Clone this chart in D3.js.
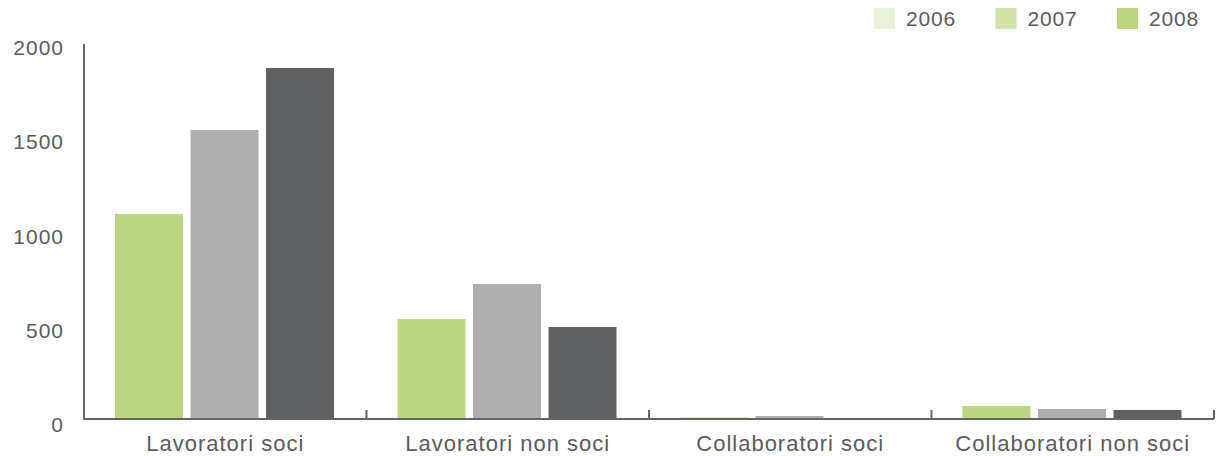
<!DOCTYPE html>
<html>
<head>
<meta charset="utf-8">
<script src="https://cdn.jsdelivr.net/npm/d3@7"></script>
<style>
  html, body { margin: 0; padding: 0; background: #fff; }
  svg { display: block; }
  text { font-family: "Liberation Sans", Arial, Helvetica, sans-serif; fill: #5b5b5b; }
</style>
</head>
<body>
<svg id="chart" width="1217" height="456"></svg>
<script>
const categories = ["Lavoratori soci", "Lavoratori non soci", "Collaboratori soci", "Collaboratori non soci"];
const years = ["2006", "2007", "2008"];
const values2006 = [1088, 530, 8, 69];
const values2007 = [1533, 716, 16, 53];
const values2008 = [1862, 488, 0, 48];
const yTicks = [0, 500, 1000, 1500, 2000];
const barColors = ["#bcd580", "#afafaf", "#5f6062"];
const legendColors = ["#e8f2d8", "#d0e2a8", "#bcd580"];

const series = [values2006, values2007, values2008];
const data = categories.map((c, i) => ({ cat: c, vals: years.map((y, j) => ({ year: y, idx: j, v: series[j][i] })) }));

const svg = d3.select("#chart");
const left = 84, right = 1214, baseY = 419, topY = 42;

const x = d3.scaleBand().domain(categories).range([left, right]).padding(0);
const xs = d3.scaleBand().domain(years).range([31, 250]).paddingInner(0.1).paddingOuter(0);
const y = d3.scaleLinear().domain([0, 2000]).range([baseY, topY]);

// bars
const g = svg.append("g");
g.selectAll("g.grp").data(data).join("g")
  .attr("transform", d => `translate(${x(d.cat)},0)`)
  .selectAll("rect").data(d => d.vals).join("rect")
  .attr("x", d => xs(d.year))
  .attr("width", xs.bandwidth())
  .attr("y", d => y(d.v))
  .attr("height", d => baseY - y(d.v))
  .attr("fill", d => barColors[d.idx]);

// x axis line and boundary ticks
svg.append("line").attr("x1", left).attr("x2", right).attr("y1", baseY).attr("y2", baseY)
  .attr("stroke", "#666").attr("stroke-width", 2);
const bounds = categories.map(c => x(c)).concat([right]);
svg.selectAll("line.bt").data(bounds).join("line")
  .attr("x1", d => d).attr("x2", d => d).attr("y1", baseY).attr("y2", baseY - 9)
  .attr("stroke", "#666").attr("stroke-width", 2);

// y axis line
svg.append("line").attr("x1", left).attr("x2", left).attr("y1", 44).attr("y2", baseY + 1)
  .attr("stroke", "#666").attr("stroke-width", 2);

// category labels
svg.selectAll("text.cat").data(categories).join("text")
  .attr("x", d => x(d) + x.bandwidth() / 2)
  .attr("y", 451)
  .attr("text-anchor", "middle")
  .attr("font-size", 22)
  .attr("letter-spacing", 1)
  .text(d => d);

// y tick labels
svg.selectAll("text.yt").data(yTicks).join("text")
  .attr("x", 64)
  .attr("y", d => y(d) + 13)
  .attr("text-anchor", "end")
  .attr("font-size", 21)
  .attr("letter-spacing", 1)
  .text(d => d);

// legend
const lg = svg.selectAll("g.lg").data(years).join("g")
  .attr("transform", (d, i) => `translate(${874 + i * 121.5},8)`);
lg.append("rect").attr("width", 21).attr("height", 21).attr("fill", (d, i) => legendColors[i]);
lg.append("text").attr("x", 32).attr("y", 18).attr("font-size", 21).attr("letter-spacing", 0.8).text(d => d);
</script>
</body>
</html>
